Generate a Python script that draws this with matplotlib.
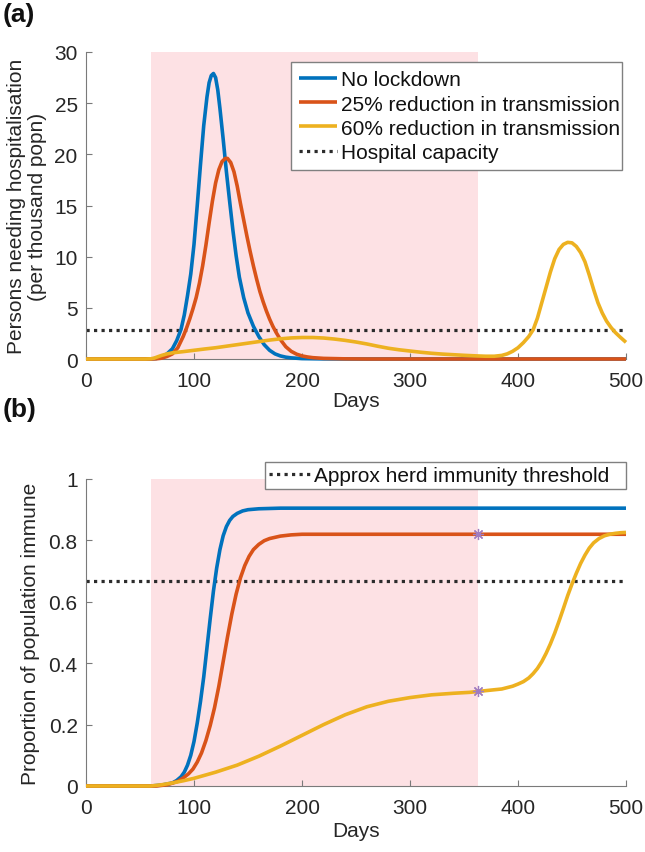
import matplotlib
matplotlib.use("Agg")
import matplotlib.pyplot as plt
from matplotlib.lines import Line2D

plt.rcParams['font.family'] = ['Liberation Sans', 'DejaVu Sans']

# ---------------- data ----------------
lockdown_start = 60
lockdown_end = 363
hospital_capacity = 2.8
herd_threshold = 0.667

labels = ["No lockdown", "25% reduction in transmission", "60% reduction in transmission"]
cap_label = "Hospital capacity"
herd_label = "Approx herd immunity threshold"

# panel (a): persons needing hospitalisation (per thousand)
hosp_blue_days = [0, 50, 60, 65, 70, 75, 80, 84, 88, 91, 94, 97, 100, 103, 106, 109, 112, 114, 116, 118,
                  120, 122, 124, 127, 130, 133, 136, 139, 142, 146, 150, 155, 160, 165, 170, 175, 180,
                  185, 190, 200, 220, 250, 500]
hosp_blue = [0, 0, 0.01, 0.05, 0.2, 0.5, 1.0, 1.8, 2.9, 4.3, 6.2, 8.3, 11.2, 15.0, 19.0, 22.8, 25.6, 27.0, 27.7, 27.9,
             27.5, 26.3, 24.5, 21.5, 18.3, 15.4, 12.6, 10.1, 8.0, 6.0, 4.5, 3.2, 2.2, 1.4, 0.85, 0.5, 0.3,
             0.18, 0.11, 0.04, 0.01, 0, 0]

hosp_red_days = [0, 60, 65, 70, 75, 80, 85, 90, 93, 96, 99, 102, 105, 108, 111, 114, 117, 120, 123, 126, 129,
                 131, 134, 137, 140, 143, 146, 149, 152, 155, 158, 161, 164, 167, 170, 173, 176, 180, 185,
                 190, 195, 200, 205, 210, 220, 240, 260, 500]
hosp_red = [0, 0, 0.02, 0.08, 0.25, 0.5, 1.1, 2.2, 3.0, 3.9, 4.9, 6.0, 7.4, 9.1, 11.1, 13.3, 15.4, 17.2, 18.5, 19.3, 19.6,
            19.6, 19.2, 18.3, 16.9, 15.2, 13.6, 12.0, 10.5, 9.1, 7.8, 6.6, 5.6, 4.7, 3.9, 3.2, 2.6, 1.9, 1.2,
            0.75, 0.47, 0.3, 0.2, 0.13, 0.06, 0.015, 0, 0]

hosp_yellow_days = [0, 55, 60, 63, 66, 70, 75, 80, 90, 100, 110, 120, 130, 140, 150, 160, 170, 180, 190, 200,
                    210, 220, 230, 240, 250, 260, 270, 280, 290, 300, 310, 320, 330, 340, 350, 360, 370, 378,
                    385, 390, 395, 400, 405, 410, 414, 418, 422, 426, 430, 434, 438, 442, 446, 450, 454, 458,
                    462, 466, 470, 474, 478, 482, 486, 490, 495, 500]
hosp_yellow = [0, 0, 0.02, 0.08, 0.2, 0.35, 0.5, 0.6, 0.72, 0.85, 0.98, 1.1, 1.25, 1.4, 1.55, 1.7, 1.85, 1.97, 2.06, 2.1,
               2.1, 2.05, 1.95, 1.82, 1.66, 1.47, 1.25, 1.05, 0.9, 0.78, 0.66, 0.56, 0.48, 0.42, 0.36, 0.31, 0.27, 0.27,
               0.35, 0.5, 0.75, 1.1, 1.6, 2.2, 2.85, 4.0, 5.5, 7.0, 8.5, 9.8, 10.7, 11.2, 11.4, 11.35, 11.0, 10.4,
               9.5, 8.2, 6.8, 5.5, 4.5, 3.7, 3.1, 2.6, 2.1, 1.63]

# panel (b): proportion of population immune
imm_blue_days = [0, 60, 70, 80, 84, 88, 91, 94, 97, 100, 103, 106, 109, 112, 115, 118, 121, 124, 127, 130,
                 133, 136, 140, 145, 150, 160, 180, 500]
imm_blue = [0, 0, 0.003, 0.01, 0.018, 0.03, 0.045, 0.068, 0.1, 0.145, 0.205, 0.275, 0.355, 0.45, 0.545, 0.635, 0.71, 0.77, 0.815, 0.845,
            0.865, 0.878, 0.888, 0.896, 0.9, 0.903, 0.905, 0.905]

imm_red_days = [0, 65, 75, 85, 90, 95, 99, 103, 107, 111, 115, 119, 123, 127, 131, 135, 139, 143, 147, 151,
                155, 160, 165, 170, 180, 190, 200, 500]
imm_red = [0, 0, 0.004, 0.015, 0.026, 0.04, 0.055, 0.078, 0.108, 0.148, 0.197, 0.255, 0.325, 0.405, 0.485, 0.56, 0.625, 0.678, 0.718, 0.748,
           0.77, 0.787, 0.799, 0.806, 0.814, 0.818, 0.82, 0.82]

imm_yellow_days = [0, 60, 70, 80, 90, 100, 120, 140, 160, 180, 200, 220, 240, 260, 280, 300, 320, 340, 355, 363,
                   385, 395, 400, 405, 410, 414, 418, 422, 426, 430, 434, 438, 442, 446, 450, 454, 458, 462,
                   466, 470, 475, 480, 485, 490, 495, 500]
imm_yellow = [0, 0, 0.004, 0.01, 0.017, 0.025, 0.045, 0.068, 0.097, 0.13, 0.165, 0.2, 0.232, 0.258, 0.276, 0.288, 0.297, 0.302, 0.305, 0.308,
              0.316, 0.325, 0.332, 0.34, 0.352, 0.366, 0.383, 0.405, 0.432, 0.463, 0.498, 0.537, 0.578, 0.62, 0.658, 0.693, 0.725, 0.752,
              0.775, 0.792, 0.806, 0.815, 0.82, 0.823, 0.825, 0.826]

marker_days = [363, 363]
marker_vals = [0.82, 0.308]

# ---------------- style ----------------
colors = ['#0072BD', '#D95319', '#EDB120']
txt = '#262626'
axc = '#7a7a7a'
pink = '#FDE1E4'
lw = 2.6
fs = 15
dot = dict(color='#2b2b2b', lw=2.3, linestyle=(0, (1, 1.35)), dash_capstyle='butt')

W, H = 645, 853
fig = plt.figure(figsize=(W / 100, H / 100), dpi=100)

def style_axes(ax):
    for s in ['top', 'right']:
        ax.spines[s].set_visible(False)
    for s in ['left', 'bottom']:
        ax.spines[s].set_color(axc)
        ax.spines[s].set_linewidth(0.8)
    ax.tick_params(direction='in', length=4, width=0.8, color=axc, labelcolor=txt, labelsize=fs)
    ax.tick_params(axis='x', pad=8.5)
    ax.tick_params(axis='y', pad=6)
    ax.set_xlim(0, 500)
    ax.set_xticks([0, 100, 200, 300, 400, 500])

# panel (a)
axa = fig.add_axes([86 / W, 1 - 360 / H, 540 / W, 307 / H])
style_axes(axa)
axa.axvspan(lockdown_start, lockdown_end, color=pink, lw=0, zorder=0)
for d, v, c, lab in zip([hosp_blue_days, hosp_red_days, hosp_yellow_days],
                        [hosp_blue, hosp_red, hosp_yellow], colors, labels):
    axa.plot(d, v, color=c, lw=lw, label=lab, clip_on=False, zorder=3, solid_capstyle='butt')
axa.axhline(hospital_capacity, label=cap_label, zorder=2, **dot)
axa.set_ylim(0, 30)
axa.set_yticks([0, 5, 10, 15, 20, 25, 30])
axa.set_xlabel('Days', fontsize=fs, color=txt, labelpad=1)
axa.set_ylabel('Persons needing hospitalisation\n(per thousand popn)', fontsize=fs, color=txt,
               labelpad=5, linespacing=1.15)
lega = axa.legend(loc='upper left', bbox_to_anchor=(291 / W, 1 - 173 / H, 331 / W, 110 / H),
                  bbox_transform=fig.transFigure, mode='expand',
                  fontsize=fs, frameon=True, fancybox=False, framealpha=1, edgecolor='#808080',
                  handlelength=1.8, handletextpad=0.2, labelspacing=0.25, borderpad=0.4, borderaxespad=0)
lega.get_frame().set_linewidth(1.0)
for t in lega.get_texts():
    t.set_color('#111111')

# panel (b)
axb = fig.add_axes([86 / W, 1 - 787 / H, 540 / W, 307 / H])
style_axes(axb)
axb.axvspan(lockdown_start, lockdown_end, color=pink, lw=0, zorder=0)
for d, v, c in zip([imm_blue_days, imm_red_days, imm_yellow_days], [imm_blue, imm_red, imm_yellow], colors):
    axb.plot(d, v, color=c, lw=lw, clip_on=False, zorder=3, solid_capstyle='butt')
axb.axhline(herd_threshold, zorder=2, **dot)
axb.plot(marker_days, marker_vals, linestyle='none', marker=(8, 2, 0), markersize=8,
         markeredgewidth=0.9, color='#a07cc0', zorder=4, clip_on=False)
axb.set_ylim(0, 1)
axb.set_yticks([0, 0.2, 0.4, 0.6, 0.8, 1])
axb.set_yticklabels(['0', '0.2', '0.4', '0.6', '0.8', '1'])
axb.set_xlabel('Days', fontsize=fs, color=txt, labelpad=3)
axb.set_ylabel('Proportion of population immune', fontsize=fs, color=txt, labelpad=6)
legb = axb.legend([Line2D([], [], **dot)], [herd_label], loc='upper left',
                  bbox_to_anchor=(265 / W, 1 - 493 / H, 361 / W, 30 / H), bbox_transform=fig.transFigure,
                  mode='expand', fontsize=fs, frameon=True, fancybox=False, framealpha=1, edgecolor='#808080',
                  handlelength=2.0, handletextpad=0.15, borderpad=0.2, borderaxespad=0)
legb.get_frame().set_linewidth(1.0)
legb.set_zorder(10)
for t in legb.get_texts():
    t.set_color('#111111')

fig.text(3 / W, 1 - 3 / H, '(a)', fontsize=19, fontweight='bold', va='top', ha='left', color='#111111')
fig.text(3 / W, 1 - 398 / H, '(b)', fontsize=19, fontweight='bold', va='top', ha='left', color='#111111')

fig.savefig('out.png', dpi=100)
